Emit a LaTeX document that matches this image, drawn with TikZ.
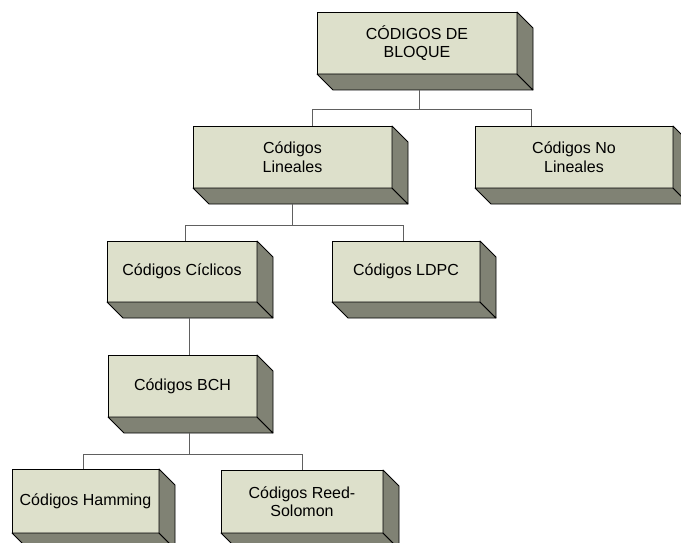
\documentclass[tikz,border=0pt]{standalone}
\usepackage{fontspec}
\setmainfont{Liberation Sans}
\usetikzlibrary{calc}
\definecolor{BoxFace}{RGB}{221,224,203}
\definecolor{BoxSide}{RGB}{128,130,116}
\definecolor{LinkGray}{RGB}{96,96,96}

\begin{document}
\begin{tikzpicture}[x=1pt, y=-1pt,
    every node/.style={font=\fontsize{16}{18.5}\selectfont, align=center},
    codebox/.style={draw=black, line width=0.8pt, fill=BoxFace, minimum height=62pt,
                    inner sep=0pt, outer sep=0pt},
    side/.style={draw=black, line width=0.8pt, fill=BoxSide, line join=round},
    link/.style={draw=LinkGray, line width=1pt}]
  \useasboundingbox (0,0) rectangle (681,543);
  \clip (0,0) rectangle (681,543);

  \node[codebox, minimum width=200pt] (bloque) at (417,43) {CÓDIGOS DE\\BLOQUE};
  \node[codebox, minimum width=199pt] (lin) at (292.5,157) {Códigos\\Lineales};
  \node[codebox, minimum width=198pt] (nolin) at (574,157) {Códigos No\\Lineales};
  \node[codebox, minimum width=150pt, minimum height=61pt] (cic) at (182,271.5) {Códigos Cíclicos};
  \node[codebox, minimum width=148pt, minimum height=61pt] (ldpc) at (406,271.5) {Códigos LDPC};
  \node[codebox, minimum width=149pt] (bch) at (182.5,386) {Códigos BCH};
  \node[codebox, minimum width=147pt, minimum height=64pt] (ham) at (85.5,501) {Códigos Hamming};
  \node[codebox, minimum width=162pt, minimum height=63pt] (reed) at (302,501.5) {Códigos Reed-\\Solomon};

  % 3d depth of the boxes
  \foreach \b in {bloque,lin,nolin,cic,ldpc,bch,ham,reed} {
    \draw[side] (\b.south west) -- (\b.south east) -- ++(16,16)
      -- ($(\b.south west)+(16,16)$) -- cycle;
    \draw[side] (\b.north east) -- ++(16,16) -- ($(\b.south east)+(16,16)$)
      -- (\b.south east) -- cycle;
  }

  % links
  \draw[link] ([xshift=2pt,yshift=-16pt]bloque.south) -- ++(0,20) -| ([xshift=19.5pt]lin.north);
  \draw[link] ([xshift=2pt,yshift=-16pt]bloque.south) -- ++(0,20) -| ([xshift=-43pt]nolin.north);
  \draw[link] ([yshift=-16pt]lin.south) -- ++(0,21) -| ([xshift=3pt]cic.north);
  \draw[link] ([yshift=-16pt]lin.south) -- ++(0,21) -| ([xshift=-3pt]ldpc.north);
  \draw[link] ([xshift=7pt,yshift=-16pt]cic.south) -- ([xshift=7pt]cic.south |- bch.north);
  \draw[link] ([xshift=7pt,yshift=-16pt]bch.south) -- ++(0,21) -| ([xshift=-2.5pt]ham.north);
  \draw[link] ([xshift=7pt,yshift=-16pt]bch.south) -- ++(0,21) -| (reed.north);
\end{tikzpicture}
\end{document}
